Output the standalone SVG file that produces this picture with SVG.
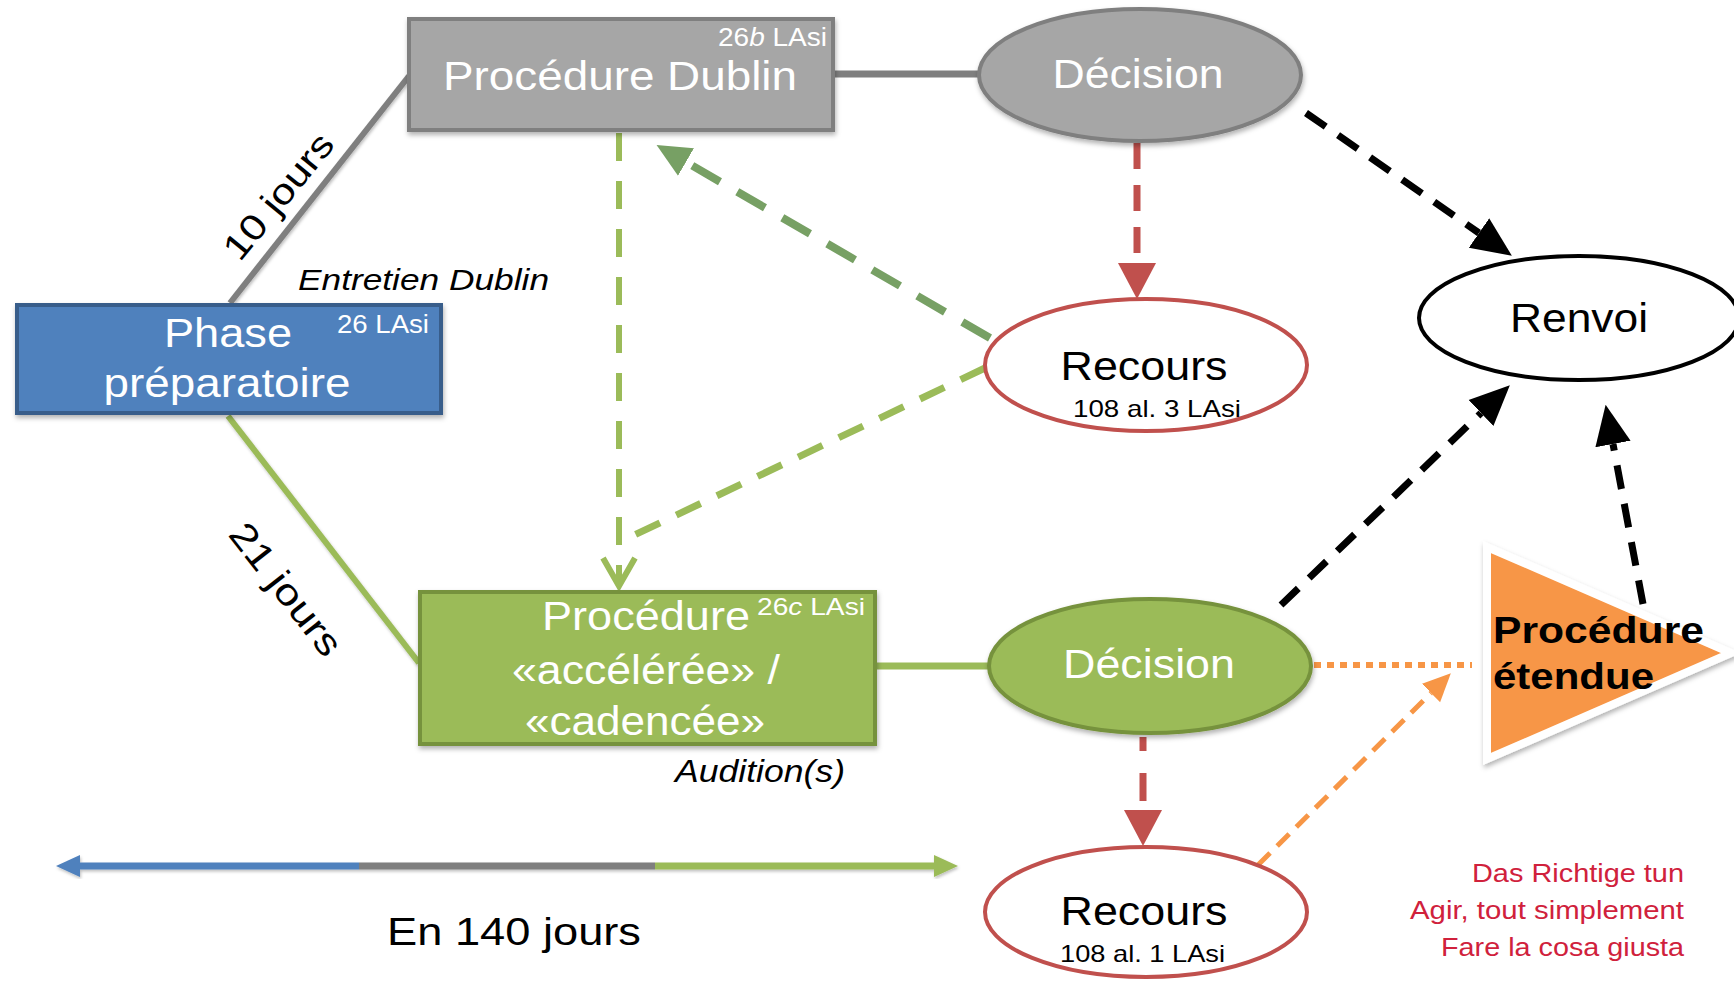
<svg xmlns="http://www.w3.org/2000/svg" width="1734" height="996" viewBox="0 0 1734 996">
<style>
.t{font-family:"Liberation Sans",Arial,Helvetica,sans-serif}
.w{fill:#ffffff}
.k{fill:#000000}
.r{fill:#d0213c}
.main{font-size:40px}
.sm{font-size:25px}
.it{font-style:italic}
.dash{fill:none;stroke-linecap:butt}
</style>
<defs>
<filter id="sh" x="-10%" y="-10%" width="120%" height="130%">
<feDropShadow dx="1" dy="3" stdDeviation="2.5" flood-color="#000" flood-opacity="0.3"/>
</filter>
<filter id="lsh" x="-5%" y="-5%" width="110%" height="110%">
<feDropShadow dx="1" dy="2" stdDeviation="1.5" flood-color="#000" flood-opacity="0.25"/>
</filter>
<marker id="ahBlack" markerUnits="userSpaceOnUse" markerWidth="40" markerHeight="40" refX="0" refY="17" orient="auto" viewBox="0 0 38 34">
<path d="M0,0 L38,17 L0,34 z" fill="#000"/>
</marker>
<marker id="ahRed" markerUnits="userSpaceOnUse" markerWidth="36" markerHeight="38" refX="0" refY="18" orient="auto" viewBox="0 0 34 36">
<path d="M0,0 L34,18 L0,36 z" fill="#c0504d"/>
</marker>
<marker id="ahDkGreen" markerUnits="userSpaceOnUse" markerWidth="34" markerHeight="34" refX="0" refY="15" orient="auto" viewBox="0 0 32 30">
<path d="M0,0 L32,15 L0,30 z" fill="#77a064"/>
</marker>
<marker id="ahOrange" markerUnits="userSpaceOnUse" markerWidth="28" markerHeight="28" refX="0" refY="12" orient="auto" viewBox="0 0 26 24">
<path d="M0,0 L26,12 L0,24 z" fill="#f79646"/>
</marker>
</defs>
<rect x="0" y="0" width="1734" height="996" fill="#ffffff"/>

<g id="connectors">
<!-- solid links -->
<line x1="230" y1="303" x2="409" y2="76" stroke="#7f7f7f" stroke-width="6" filter="url(#lsh)"/>
<line x1="228" y1="416" x2="419" y2="663" stroke="#9bbb59" stroke-width="6" filter="url(#lsh)"/>
<line x1="835" y1="74" x2="979" y2="74" stroke="#7f7f7f" stroke-width="7"/>
<line x1="877" y1="666" x2="989" y2="666" stroke="#9bbb59" stroke-width="7"/>
<!-- Dublin -> procédure accélérée (light green dashed, open head) -->
<line class="dash" x1="619" y1="133" x2="619" y2="584" stroke="#9bbb59" stroke-width="6" stroke-dasharray="28 20"/>
<polyline points="603,558 619,586 635,558" fill="none" stroke="#9bbb59" stroke-width="6" stroke-linejoin="miter"/>
<!-- Recours 1 -> vertical line (light green dashed) -->
<line class="dash" x1="985" y1="368" x2="624" y2="540" stroke="#9bbb59" stroke-width="7" stroke-dasharray="27 18"/>
<!-- Recours 1 -> Dublin (dark green dashed) -->
<line class="dash" x1="990" y1="338" x2="686" y2="162" stroke="#77a064" stroke-width="8" stroke-dasharray="32 20" marker-end="url(#ahDkGreen)"/>
<!-- gray Décision -> Recours 1 -->
<line class="dash" x1="1137" y1="143" x2="1137" y2="263" stroke="#c0504d" stroke-width="7" stroke-dasharray="26 16" marker-end="url(#ahRed)"/>
<!-- green Décision -> Recours 2 -->
<line class="dash" x1="1143" y1="737" x2="1143" y2="810" stroke="#c0504d" stroke-width="7" stroke-dasharray="14 22 28 22" marker-end="url(#ahRed)"/>
<!-- gray Décision -> Renvoi -->
<line class="dash" x1="1306" y1="113" x2="1479" y2="233" stroke="#000" stroke-width="7" stroke-dasharray="24 15" marker-end="url(#ahBlack)"/>
<!-- green Décision -> Renvoi -->
<line class="dash" x1="1281" y1="605" x2="1481" y2="413" stroke="#000" stroke-width="7" stroke-dasharray="24 15" marker-end="url(#ahBlack)"/>
<!-- Procédure étendue -> Renvoi -->
<line class="dash" x1="1643" y1="604" x2="1613" y2="444" stroke="#000" stroke-width="7" stroke-dasharray="24 15" marker-end="url(#ahBlack)"/>
<!-- green Décision -> Procédure étendue (dotted) -->
<line class="dash" x1="1314" y1="665" x2="1472" y2="665" stroke="#f79646" stroke-width="6" stroke-dasharray="7 6"/>
<!-- Recours 2 -> Procédure étendue -->
<line class="dash" x1="1258" y1="865" x2="1431" y2="693" stroke="#f79646" stroke-width="5" stroke-dasharray="17 10" marker-end="url(#ahOrange)"/>
<!-- timeline -->
<g id="timeline" filter="url(#lsh)">
<line x1="80" y1="866" x2="359" y2="866" stroke="#4f81bd" stroke-width="7"/>
<line x1="359" y1="866" x2="655" y2="866" stroke="#7f7f7f" stroke-width="7"/>
<line x1="655" y1="866" x2="935" y2="866" stroke="#9bbb59" stroke-width="7"/>
<path d="M80,855 L56,866 L80,877 z" fill="#4f81bd"/>
<path d="M934,855 L958,866 L934,877 z" fill="#9bbb59"/>
</g>
</g>

<g id="node-dublin">
<rect x="409" y="19" width="424" height="111" fill="#a6a6a6" stroke="#7f7f7f" stroke-width="4" filter="url(#sh)"/>
<text class="t w sm" x="718" y="46" textLength="109" lengthAdjust="spacingAndGlyphs">26<tspan class="it">b</tspan> LAsi</text>
<text class="t w main" x="620" y="90" text-anchor="middle" textLength="354" lengthAdjust="spacingAndGlyphs">Procédure Dublin</text>
</g>

<g id="node-phase">
<rect x="17" y="305" width="424" height="108" fill="#4f81bd" stroke="#385d8a" stroke-width="4" filter="url(#sh)"/>
<text class="t w main" x="228" y="347" text-anchor="middle" textLength="128" lengthAdjust="spacingAndGlyphs">Phase</text>
<text class="t w main" x="227" y="397" text-anchor="middle" textLength="247" lengthAdjust="spacingAndGlyphs">préparatoire</text>
<text class="t w sm" x="337" y="333" textLength="92" lengthAdjust="spacingAndGlyphs">26 LAsi</text>
</g>

<g id="node-acceleree">
<rect x="420" y="592" width="455" height="152" fill="#9bbb59" stroke="#76923c" stroke-width="4" filter="url(#sh)"/>
<text class="t w main" x="646" y="630" text-anchor="middle" textLength="208" lengthAdjust="spacingAndGlyphs">Procédure</text>
<text class="t w" font-size="24" x="757" y="615" textLength="108" lengthAdjust="spacingAndGlyphs">26<tspan class="it">c</tspan> LAsi</text>
<text class="t w main" x="646" y="684" text-anchor="middle" textLength="268" lengthAdjust="spacingAndGlyphs">«accélérée» /</text>
<text class="t w main" x="645" y="735" text-anchor="middle" textLength="240" lengthAdjust="spacingAndGlyphs">«cadencée»</text>
</g>

<g id="node-decision-dublin">
<ellipse cx="1140" cy="75" rx="161" ry="66" fill="#a6a6a6" stroke="#7f7f7f" stroke-width="4" filter="url(#sh)"/>
<text class="t w main" x="1138" y="88" text-anchor="middle" textLength="171" lengthAdjust="spacingAndGlyphs">Décision</text>
</g>

<g id="node-recours-1">
<ellipse cx="1146" cy="365" rx="161" ry="66" fill="#ffffff" stroke="#c0504d" stroke-width="4"/>
<text class="t k main" x="1144" y="380" text-anchor="middle" textLength="167" lengthAdjust="spacingAndGlyphs">Recours</text>
<text class="t k" font-size="24" x="1073" y="417" textLength="168" lengthAdjust="spacingAndGlyphs">108 al. 3 LAsi</text>
</g>

<g id="node-renvoi">
<ellipse cx="1579" cy="318" rx="160" ry="62" fill="#ffffff" stroke="#000" stroke-width="4"/>
<text class="t k main" x="1579" y="332" text-anchor="middle" textLength="138" lengthAdjust="spacingAndGlyphs">Renvoi</text>
</g>

<g id="node-decision-acceleree">
<ellipse cx="1150" cy="666" rx="161" ry="67" fill="#9bbb59" stroke="#76923c" stroke-width="4" filter="url(#sh)"/>
<text class="t w main" x="1149" y="678" text-anchor="middle" textLength="172" lengthAdjust="spacingAndGlyphs">Décision</text>
</g>

<g id="node-recours-2">
<ellipse cx="1146" cy="912" rx="161" ry="65" fill="#ffffff" stroke="#c0504d" stroke-width="4"/>
<text class="t k main" x="1144" y="925" text-anchor="middle" textLength="167" lengthAdjust="spacingAndGlyphs">Recours</text>
<text class="t k" font-size="24" x="1060" y="962" textLength="165" lengthAdjust="spacingAndGlyphs">108 al. 1 LAsi</text>
</g>

<g id="node-procedure-etendue">
<polygon points="1487,547 1487,759 1731,653" fill="#f79646" stroke="#ffffff" stroke-width="8" stroke-linejoin="miter" filter="url(#sh)"/>
<text class="t k" font-size="36" font-weight="bold" x="1493" y="643" textLength="211" lengthAdjust="spacingAndGlyphs">Procédure</text>
<text class="t k" font-size="36" font-weight="bold" x="1493" y="689" textLength="161" lengthAdjust="spacingAndGlyphs">étendue</text>
</g>

<g id="labels">
<text class="t k it" font-size="29" x="298" y="290" textLength="251" lengthAdjust="spacingAndGlyphs">Entretien Dublin</text>
<text class="t k" font-size="36" text-anchor="middle" transform="translate(288,204) rotate(-50.7)" textLength="152" lengthAdjust="spacingAndGlyphs">10 jours</text>
<text class="t k" font-size="37" text-anchor="middle" transform="translate(276,597) rotate(52)" textLength="158" lengthAdjust="spacingAndGlyphs">21 jours</text>
<text class="t k it" font-size="32" x="675" y="782" textLength="170" lengthAdjust="spacingAndGlyphs">Audition(s)</text>
<text class="t k" font-size="39" x="387" y="945" textLength="254" lengthAdjust="spacingAndGlyphs">En 140 jours</text>
<text class="t r" font-size="25" x="1684" y="882" text-anchor="end" textLength="212" lengthAdjust="spacingAndGlyphs">Das Richtige tun</text>
<text class="t r" font-size="25" x="1684" y="919" text-anchor="end" textLength="274" lengthAdjust="spacingAndGlyphs">Agir, tout simplement</text>
<text class="t r" font-size="25" x="1684" y="956" text-anchor="end" textLength="243" lengthAdjust="spacingAndGlyphs">Fare la cosa giusta</text>
</g>
</svg>
